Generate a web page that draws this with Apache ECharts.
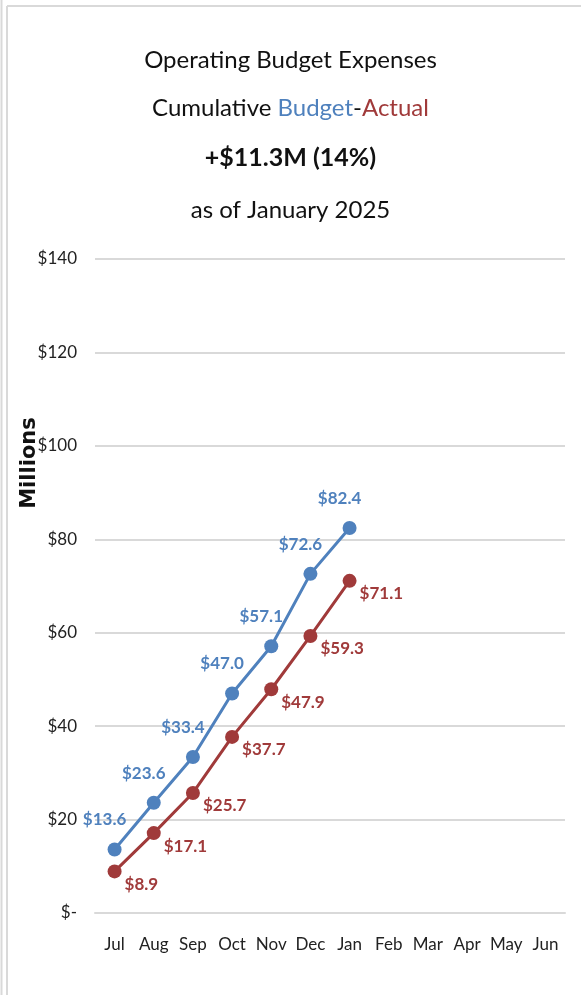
<!DOCTYPE html>
<html>
<head>
<meta charset="utf-8">
<script src="https://cdn.jsdelivr.net/npm/echarts@6/dist/echarts.min.js"></script>
<style>
html,body{margin:0;padding:0;background:#fff;}
#chart{width:581px;height:995px;}
</style>
</head>
<body>
<div id="chart"></div>
<script>
const categories = ['Jul','Aug','Sep','Oct','Nov','Dec','Jan','Feb','Mar','Apr','May','Jun'];
const budget = [13.6, 23.6, 33.4, 47.0, 57.1, 72.6, 82.4];
const actual = [8.9, 17.1, 25.7, 37.7, 47.9, 59.3, 71.1];
const yMin = 0, yMax = 140, yStep = 20;

const BLUE = '#4f81bd';
const RED = '#a03a3a';
const FONT = 'Lato';

const chart = echarts.init(document.getElementById('chart'), null, {renderer: 'canvas'});
const titleStyle = {fontFamily: FONT, fontSize: 24, color: '#111', fontWeight: 'normal', lineHeight: 30};
chart.setOption({
  backgroundColor: '#fff',
  animation: false,
  title: [
    {text: 'Operating Budget Expenses', left: 'center', top: 40, textStyle: titleStyle},
    {text: '{a|Cumulative }{b|Budget}{a|-}{c|Actual}', left: 'center', top: 88,
      textStyle: Object.assign({}, titleStyle, {rich: {
        a: {fontFamily: FONT, fontSize: 24, color: '#111'},
        b: {fontFamily: FONT, fontSize: 24, color: BLUE},
        c: {fontFamily: FONT, fontSize: 24, color: RED}
      }})},
    {text: '+$11.3M (14%)', left: 'center', top: 138, textStyle: Object.assign({}, titleStyle, {fontWeight: 'bold', fontSize: 25})},
    {text: 'as of January 2025', left: 'center', top: 190, textStyle: titleStyle}
  ],
  graphic: [
    {type: 'line', shape: {x1: 1.5, y1: 0, x2: 1.5, y2: 995}, style: {stroke: '#d9d9d9', lineWidth: 2}},
    {type: 'line', shape: {x1: 7, y1: 6, x2: 7, y2: 995}, style: {stroke: '#d9d9d9', lineWidth: 2}},
    {type: 'line', shape: {x1: 7, y1: 6, x2: 581, y2: 6}, style: {stroke: '#d9d9d9', lineWidth: 2}},
    {type: 'text', x: 30, y: 463, rotation: Math.PI / 2,
      style: {text: 'Millions', fontFamily: 'DejaVu Sans', fontWeight: 'bold', fontSize: 21, fill: '#111', align: 'center', verticalAlign: 'middle'}}
  ],
  grid: {left: 95, right: 16, top: 259, bottom: 82},
  xAxis: {
    type: 'category',
    data: categories,
    boundaryGap: true,
    axisLine: {show: true, lineStyle: {color: '#d9d9d9', width: 2}},
    axisTick: {show: false},
    axisLabel: {fontFamily: FONT, fontSize: 17, color: '#222', margin: 23, interval: 0}
  },
  yAxis: {
    type: 'value',
    min: yMin, max: yMax, interval: yStep,
    axisLine: {show: false},
    axisTick: {show: false},
    splitLine: {lineStyle: {color: '#d9d9d9', width: 2}},
    axisLabel: {fontFamily: FONT, fontSize: 17, color: '#222', margin: 18,
      formatter: v => v === 0 ? '$-' : '$' + v}
  },
  series: [
    {
      name: 'Budget', type: 'line', data: budget,
      symbol: 'circle', symbolSize: 14,
      lineStyle: {color: BLUE, width: 3},
      itemStyle: {color: BLUE},
      label: {show: true, position: 'top', offset: [-10, -9], color: BLUE,
        fontFamily: FONT, fontWeight: 'bold', fontSize: 17,
        formatter: p => '$' + p.value.toFixed(1)},
      z: 3
    },
    {
      name: 'Actual', type: 'line', data: actual,
      symbol: 'circle', symbolSize: 14,
      lineStyle: {color: RED, width: 3},
      itemStyle: {color: RED},
      label: {show: true, position: 'right', offset: [-2, 13], color: RED,
        fontFamily: FONT, fontWeight: 'bold', fontSize: 17,
        formatter: p => '$' + p.value.toFixed(1)},
      z: 2
    }
  ]
});
</script>
</body>
</html>
